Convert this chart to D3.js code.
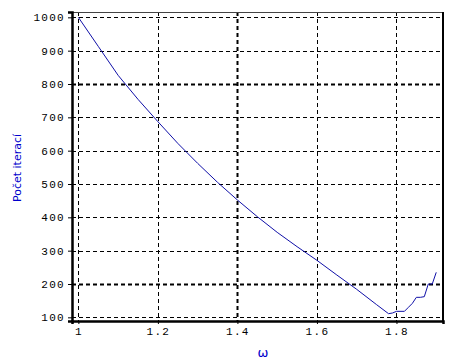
<!DOCTYPE html>
<html>
<head>
<meta charset="utf-8">
<script src="https://cdn.jsdelivr.net/npm/d3@7"></script>
<style>
  body { margin: 0; background: #fff; }
  .tick text { font-family: "Liberation Mono", monospace; font-size: 11px; letter-spacing: 1.3px; fill: #000; }
</style>
</head>
<body>
<div id="container"></div>
<script>
// omega values and iteration counts
let omega = [1.00, 1.05, 1.10, 1.15, 1.20, 1.25, 1.30, 1.35, 1.40, 1.45,
  1.50, 1.55, 1.60, 1.65, 1.70, 1.75, 1.78, 1.79, 1.80, 1.82,
  1.83, 1.84, 1.85, 1.86, 1.87, 1.88, 1.89, 1.90];
let iterations = [1000, 913, 826, 754, 687, 622, 562, 505, 452, 402,
  355, 312, 271, 227, 184, 138, 111, 113, 118, 118,
  130, 142, 160, 160, 162, 200, 200, 235];

let xTicks = [1, 1.2, 1.4, 1.6, 1.8];
let yTicks = [100, 200, 300, 400, 500, 600, 700, 800, 900, 1000];

let w = 453;
let h = 362;
let pLeft = 72, pRight = 443, pTop = 12, pBottom = 321;

let svg = d3.select("#container")
  .append("svg")
    .attr("width", w)
    .attr("height", h)
;

let x = d3.scaleLinear().domain([0.984, 1.917]).range([pLeft, pRight]);
let y = d3.scaleLinear().domain([89, 1016]).range([pBottom, pTop]);

// dashed grid
svg.selectAll("line.gx").data(xTicks).enter()
  .append("line")
    .attr("x1", d => Math.round(x(d)) + 0.5)
    .attr("x2", d => Math.round(x(d)) + 0.5)
    .attr("y1", pTop)
    .attr("y2", pBottom)
    .attr("stroke", "#000")
    .attr("stroke-width", d => d == 1.4 ? 2 : 1)
    .attr("stroke-dasharray", "4,3")
;
svg.selectAll("line.gy").data(yTicks).enter()
  .append("line")
    .attr("x1", pLeft)
    .attr("x2", pRight)
    .attr("y1", d => Math.round(y(d)) + 0.5)
    .attr("y2", d => Math.round(y(d)) + 0.5)
    .attr("stroke", "#000")
    .attr("stroke-width", d => (d == 200 || d == 800) ? 2 : 1)
    .attr("stroke-dasharray", "4,3")
;

// frame
svg.append("line").attr("x1", pLeft).attr("x2", pRight).attr("y1", pTop + 0.5).attr("y2", pTop + 0.5)
  .attr("stroke", "#444").attr("stroke-width", 1);
svg.append("line").attr("x1", pRight).attr("x2", pRight).attr("y1", pTop).attr("y2", pBottom + 1)
  .attr("stroke", "#000").attr("stroke-width", 2);

// axes
let yAxis = svg.append("g")
  .attr("transform", "translate(" + pLeft + ",0)")
  .call(d3.axisLeft(y).tickValues(yTicks).tickSize(4).tickPadding(3).tickFormat(d3.format("d")));
let xAxis = svg.append("g")
  .attr("transform", "translate(0," + pBottom + ")")
  .call(d3.axisBottom(x).tickValues(xTicks).tickSize(3).tickPadding(3).tickFormat(d => d == 1 ? "1" : d.toFixed(1)));

[yAxis, xAxis].forEach(g => {
  g.select(".domain").attr("stroke", "#000").attr("stroke-width", 2.5);
  g.selectAll(".tick line").attr("stroke", "#000");
});

// data line
let lineMaker = d3.line()
  .x((d, i) => x(omega[i]))
  .y(d => y(d))
;
svg.append("path")
  .datum(iterations)
  .attr("d", lineMaker)
  .attr("fill", "none")
  .attr("stroke", "#1010a8")
  .attr("stroke-width", 1)
;

// labels
svg.append("text")
  .attr("transform", "translate(21,168) rotate(-90)")
  .attr("text-anchor", "middle")
  .style("font-family", "DejaVu Sans, sans-serif")
  .style("font-size", "11px")
  .attr("fill", "#0000cc")
  .text("Počet iterací");

svg.append("text")
  .attr("x", 263)
  .attr("y", 357)
  .attr("text-anchor", "middle")
  .style("font-family", "DejaVu Sans, sans-serif")
  .style("font-size", "13px")
  .attr("fill", "#0000cc")
  .text("ω");
</script>
</body>
</html>
